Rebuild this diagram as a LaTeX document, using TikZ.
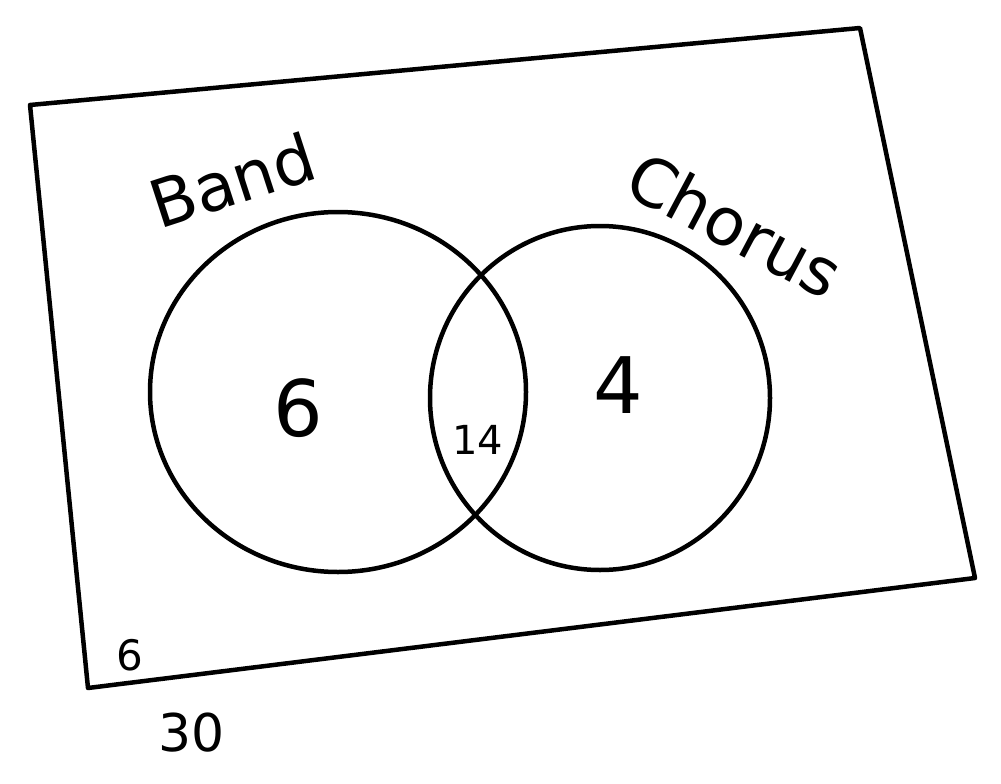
\documentclass[tikz,border=0pt]{standalone}
\usepackage{fontspec}
\setmainfont{DejaVu Sans}
\tikzset{
  pen/.style={line width=4.5pt,black,line join=round,line cap=round},
  bigdigit/.style={font=\fontsize{78}{78}\selectfont},
  setname/.style={font=\fontsize{66}{66}\selectfont}
}
\begin{document}
\begin{tikzpicture}[x=1pt,y=-1pt]
  \useasboundingbox (0,0) rectangle (1001,784);

  % universe box, slightly skewed like the sketch
  \draw[pen] (30,105) -- (860,28) -- (975,578) -- (88,688) -- cycle;

  % the two sets
  \draw[pen] (338,392) ellipse[x radius=188,y radius=180];
  \draw[pen] (600,398) ellipse[x radius=170,y radius=172];

  % set names
  \node[setname,rotate=18] (band) at (232,180) {Band};
  \node[setname,rotate=-28] (chorus) at (735,225) {Chorus};

  % counts
  \node[bigdigit] (onlyband) at (298,408) {6};
  \node[font=\fontsize{40}{40}\selectfont] (both) at (478,440) {14};
  \node[bigdigit] (onlychorus) at (618,385) {4};
  \node[font=\fontsize{42}{42}\selectfont] (neither) at (130,655) {6};
  \node[font=\fontsize{52}{52}\selectfont] (total) at (192,733) {30};
\end{tikzpicture}
\end{document}
